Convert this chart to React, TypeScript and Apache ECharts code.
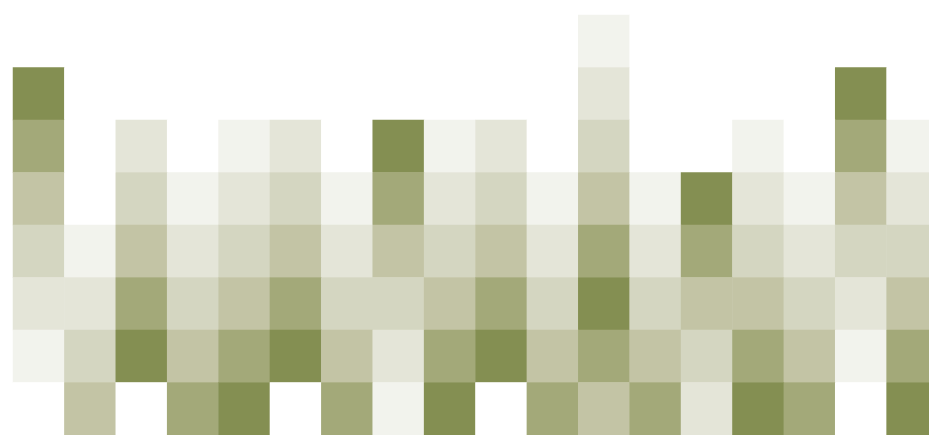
import React, { useEffect, useRef } from "react";
import * as echarts from "echarts";

const columns = ["C1","C2","C3","C4","C5","C6","C7","C8","C9","C10","C11","C12","C13","C14","C15","C16","C17","C18"];
const rows = ["R1","R2","R3","R4","R5","R6","R7","R8"];

// intensity level per cell (0 = empty, 6 = darkest), top row first
const row1 = [0,0,0,0,0,0,0,0,0,0,0,1,0,0,0,0,0,0];
const row2 = [6,0,0,0,0,0,0,0,0,0,0,2,0,0,0,0,6,0];
const row3 = [5,0,2,0,1,2,0,6,1,2,0,3,0,0,1,0,5,1];
const row4 = [4,0,3,1,2,3,1,5,2,3,1,4,1,6,2,1,4,2];
const row5 = [3,1,4,2,3,4,2,4,3,4,2,5,2,5,3,2,3,3];
const row6 = [2,2,5,3,4,5,3,3,4,5,3,6,3,4,4,3,2,4];
const row7 = [1,3,6,4,5,6,4,2,5,6,4,5,4,3,5,4,1,5];
const row8 = [0,4,0,5,6,0,5,1,6,0,5,4,5,2,6,5,0,6];

const levels = [row1,row2,row3,row4,row5,row6,row7,row8];
const palette = ["#ffffff","#f2f3ed","#e4e5d8","#d4d6c1","#c3c4a5","#a3a979","#848f52"];

export default function App() {
  const ref = useRef<HTMLDivElement>(null);
  useEffect(() => {
    document.body.style.margin = "0";
    document.body.style.overflow = "hidden";
    if (!ref.current) return;
    const chart = echarts.init(ref.current, null, { renderer: "svg" });
    const data: number[][] = [];
    levels.forEach((r, yi) => r.forEach((v, xi) => data.push([xi, yi, v])));
    chart.setOption({
      animation: false,
      grid: { left: 13, top: 15, right: 0, bottom: 0, outerBoundsMode: "none" },
      xAxis: {
        type: "category", data: columns,
        axisLine: { show: false }, axisTick: { show: false }, axisLabel: { show: false }, splitLine: { show: false },
      },
      yAxis: {
        type: "category", data: rows, inverse: true,
        axisLine: { show: false }, axisTick: { show: false }, axisLabel: { show: false }, splitLine: { show: false },
      },
      visualMap: {
        type: "piecewise", show: false, dimension: 2,
        pieces: palette.map((c, i) => ({ value: i, color: c })),
      },
      series: [{
        type: "heatmap", data,
        itemStyle: { borderWidth: 0 },
        emphasis: { disabled: true },
      }],
    });
    return () => chart.dispose();
  }, []);
  return (
    <div style={{ width: 929, height: 435, overflow: "hidden" }}>
      <div ref={ref} style={{ width: 938, height: 435 }} />
    </div>
  );
}
